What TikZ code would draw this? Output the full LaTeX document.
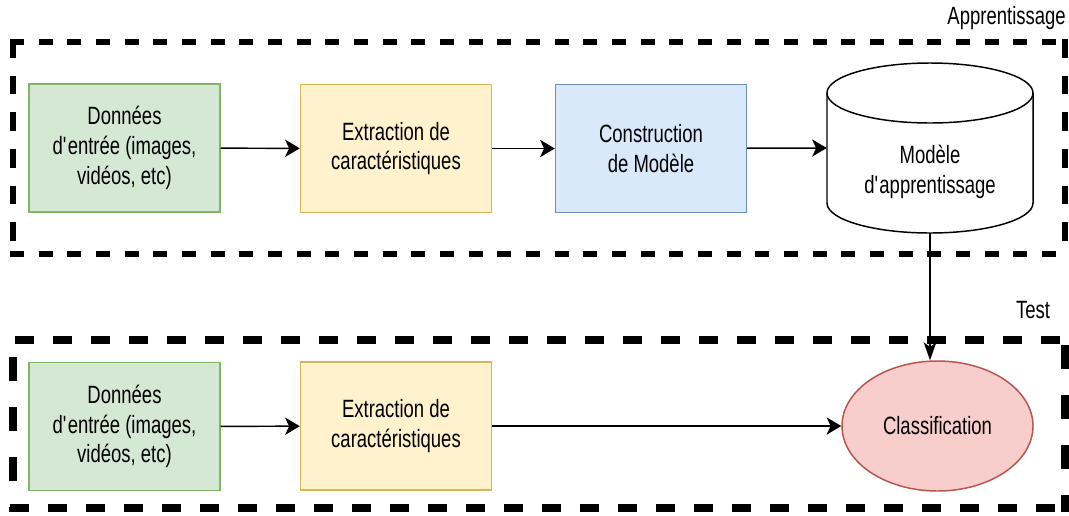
\documentclass[tikz,border=0pt]{standalone}
\usepackage{fontspec}
\setmainfont{Liberation Sans}[FakeStretch=0.74]
\usetikzlibrary{arrows.meta,shapes.geometric}
\definecolor{gfill}{HTML}{D5E8D4}\definecolor{gdraw}{HTML}{82B366}
\definecolor{yfill}{HTML}{FFF2CC}\definecolor{ydraw}{HTML}{D6B656}
\definecolor{bfill}{HTML}{DAE8FC}\definecolor{bdraw}{HTML}{6C8EBF}
\definecolor{rfill}{HTML}{F8CECC}\definecolor{rdraw}{HTML}{B85450}
\begin{document}
\begin{tikzpicture}[x=0.75pt,y=-0.75pt,
  every node/.style={font=\fontsize{18.75pt}{22.3pt}\selectfont, align=center},
  procbox/.style={rectangle, minimum width=143.25pt, minimum height=96pt, inner sep=0pt, line width=1.1pt},
  conn/.style={line width=1.1pt, -{Stealth[length=11pt,width=13pt,inset=3pt]}},
  vconn/.style={line width=1.1pt, -{Stealth[length=13.5pt,width=9.5pt,inset=3.5pt]}},
  toph/.style={line width=4.1pt, dash pattern=on 10.5pt off 11pt},
  topv/.style={line width=4.1pt, dash pattern=on 14pt off 13.5pt},
  both/.style={line width=6pt, dash pattern=on 14.25pt off 14.25pt},
  botv/.style={line width=6pt, dash pattern=on 18pt off 19.5pt}]
\useasboundingbox (0,0) rectangle (1069,515);
% dashed frames
\draw[toph] (10,42) -- (1068,42);
\draw[toph] (10,254) -- (1068,254);
\draw[topv] (12.8,39) -- (12.8,257);
\draw[topv] (1065,39) -- (1065,257);
\draw[both] (15,340) -- (1068,340);
\draw[both] (10,508) -- (1068,508);
\draw[botv] (12.5,357) -- (12.5,512);
\draw[botv] (1065,345) -- (1065,512);
\node[anchor=east, inner sep=0pt] (lapp) at (1066,18) {Apprentissage};
\node[inner sep=0pt] (ltest) at (1033,310) {Test};
% top row
\node[procbox, fill=gfill, draw=gdraw] (d1) at (124.5,148) {Données\\d\textquotesingle entrée (images,\\vidéos, etc)};
\node[procbox, fill=yfill, draw=ydraw] (e1) at (396,148.5) {Extraction de\\caractéristiques};
\node[procbox, fill=bfill, draw=bdraw] (c1) at (651,148.5) {Construction\\de Modèle};
% cylinder
\node[rectangle, minimum width=154.5pt, minimum height=127.5pt, inner sep=0pt] (cyl) at (930,148) {};
\draw[line width=1.1pt, fill=white] (827,93) -- (827,203) arc[start angle=180, end angle=0, x radius=103, y radius=30] -- (1033,93);
\draw[line width=1.1pt, fill=white] (930,93) ellipse[x radius=103, y radius=30];
\node (cyltext) at (930,172) {Modèle\\d\textquotesingle apprentissage};
% bottom row
\node[procbox, fill=gfill, draw=gdraw] (d2) at (124.5,426.5) {Données\\d\textquotesingle entrée (images,\\vidéos, etc)};
\node[procbox, fill=yfill, draw=ydraw] (e2) at (396,426) {Extraction de\\caractéristiques};
\node[ellipse, minimum width=143.25pt, minimum height=97.5pt, inner sep=0pt, fill=rfill, draw=rdraw, line width=1.1pt] (cls) at (937.5,426) {Classification};
% connectors
\draw[conn] (d1) -- (e1);
\draw[conn] (e1) -- (c1);
\draw[conn] (c1) -- (cyl.west);
\draw[conn] (d2) -- (e2);
\draw[conn] (e2) -- (cls);
\draw[vconn] (cyl.south) -- (cyl.south |- cls.north);
\end{tikzpicture}
\end{document}
